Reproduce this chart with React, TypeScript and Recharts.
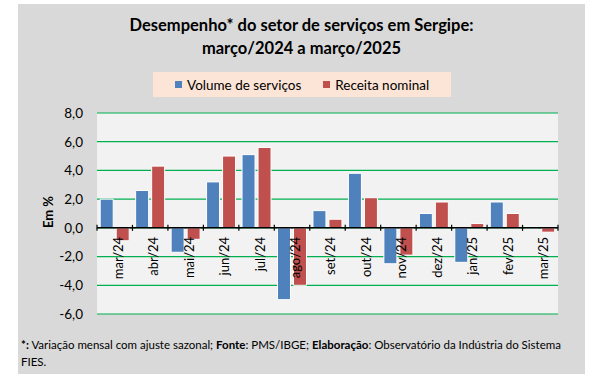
import React from 'react';
import { BarChart, Bar, XAxis, YAxis, CartesianGrid, ReferenceLine } from 'recharts';

const categories = ['mar/24', 'abr/24', 'mai/24', 'jun/24', 'jul/24', 'ago/24', 'set/24', 'out/24', 'nov/24', 'dez/24', 'jan/25', 'fev/25', 'mar/25'];
const volumeServicos = [2.0, 2.6, -1.7, 3.2, 5.1, -5.0, 1.2, 3.8, -2.5, 1.0, -2.4, 1.8, 0.1];
const receitaNominal = [-0.9, 4.3, -0.8, 5.0, 5.6, -4.0, 0.6, 2.1, -1.9, 1.8, 0.3, 1.0, -0.3];
const yTicks = [-6, -4, -2, 0, 2, 4, 6, 8];

const data = categories.map((name, i) => ({
  name,
  volume: volumeServicos[i],
  receita: receitaNominal[i],
}));

const W = 595;
const H = 383;
const margin = { top: 113, right: 37, bottom: 68, left: 37 };
const yAxisWidth = 60;
const xAxisHeight = 1;
const plotLeft = margin.left + yAxisWidth;
const plotW = W - margin.right - plotLeft;
const plotH = H - margin.top - margin.bottom - xAxisHeight;
const yMin = yTicks[0];
const yMax = yTicks[yTicks.length - 1];
const zeroY = margin.top + (plotH * yMax) / (yMax - yMin);
const band = plotW / categories.length;

const FONT = 'Lato, "Noto Sans", sans-serif';
const BLUE = '#4F81BD';
const RED = '#C0504D';

const CategoryTick = (props: any) => {
  const { x, payload, index } = props;
  return (
    <g>
      <line x1={x - band / 2} x2={x - band / 2} y1={zeroY - 3} y2={zeroY + 3} stroke="#000" strokeWidth={1.2} />
      {index === categories.length - 1 && (
        <line x1={x + band / 2} x2={x + band / 2} y1={zeroY - 3} y2={zeroY + 3} stroke="#000" strokeWidth={1.2} />
      )}
      <text
        x={x + 3}
        y={zeroY + 9}
        transform={`rotate(-90, ${x + 3}, ${zeroY + 9})`}
        textAnchor="end"
        dominantBaseline="central"
        fontSize={13}
        fontFamily={FONT}
        fill="#000"
      >
        {payload.value}
      </text>
    </g>
  );
};

const LegendBox = () => (
  <div
    style={{
      position: 'absolute',
      left: 153,
      top: 72,
      background: '#FCE4D6',
      height: 25,
      width: 298,
      display: 'flex',
      alignItems: 'center',
      fontFamily: FONT,
      fontSize: 13.5,
      color: '#000',
      boxSizing: 'border-box',
      paddingLeft: 22,
    }}
  >
    <span style={{ width: 7, height: 7, background: BLUE, display: 'inline-block', marginRight: 5 }} />
    <span style={{ marginRight: 22 }}>Volume de serviços</span>
    <span style={{ width: 7, height: 7, background: RED, display: 'inline-block', marginRight: 5 }} />
    <span>Receita nominal</span>
  </div>
);

export default function App() {
  return (
    <div style={{ position: 'absolute', left: 0, top: 0, width: W, height: H, background: '#fff' }}>
      <div style={{ position: 'absolute', left: 18, top: 4, width: 567, height: 370, background: '#D9D9D9' }} />
      <div
        style={{
          position: 'absolute',
          left: 18,
          top: 14,
          width: 567,
          textAlign: 'center',
          fontFamily: FONT,
          fontWeight: 'bold',
          fontSize: 16.5,
          lineHeight: '23px',
          color: '#000',
        }}
      >
        <div>Desempenho* do setor de serviços em Sergipe:</div>
        <div>março/2024 a março/2025</div>
      </div>
      <LegendBox />
      <div style={{ position: 'absolute', left: 0, top: 0 }}>
        <BarChart width={W} height={H} data={data} margin={margin} barGap={3} barCategoryGap="9%">
          <CartesianGrid vertical={false} fill="#F2F2F2" stroke="#00B050" strokeWidth={1.2} />
          <XAxis dataKey="name" axisLine={false} tickLine={false} interval={0} height={xAxisHeight} tick={<CategoryTick />} />
          <YAxis
            domain={[yMin, yMax]}
            ticks={yTicks}
            width={yAxisWidth}
            axisLine={false}
            tickLine={false}
            tickSize={0}
            tickMargin={14}
            tickFormatter={(v: number) => v.toFixed(1).replace('.', ',')}
            tick={{ fontSize: 13.5, fontFamily: FONT, fill: '#000' }}
            label={{
              content: () => (
                <text
                  x={48}
                  y={212}
                  transform="rotate(-90, 48, 212)"
                  textAnchor="middle"
                  dominantBaseline="central"
                  fontSize={13}
                  fontWeight="bold"
                  fontFamily={FONT}
                  fill="#000"
                >
                  Em %
                </text>
              ),
            }}
          />
          <Bar dataKey="volume" name="Volume de serviços" fill={BLUE} stroke="#fff" strokeWidth={1} isAnimationActive={false} />
          <Bar dataKey="receita" name="Receita nominal" fill={RED} stroke="#fff" strokeWidth={1} isAnimationActive={false} />
          <ReferenceLine y={0} stroke="#000" strokeWidth={1.5} />
        </BarChart>
      </div>
      <div
        style={{
          position: 'absolute',
          left: 21,
          top: 336,
          width: 545,
          fontFamily: FONT,
          fontSize: 11.5,
          lineHeight: '17px',
          color: '#000',
        }}
      >
        <div>
          <b>*:</b>
          <span> Variação mensal com ajuste sazonal; </span>
          <b>Fonte</b>
          <span>: PMS/IBGE; </span>
          <b>Elaboração</b>
          <span>: Observatório da Indústria do Sistema</span>
        </div>
        <div>FIES.</div>
      </div>
    </div>
  );
}
